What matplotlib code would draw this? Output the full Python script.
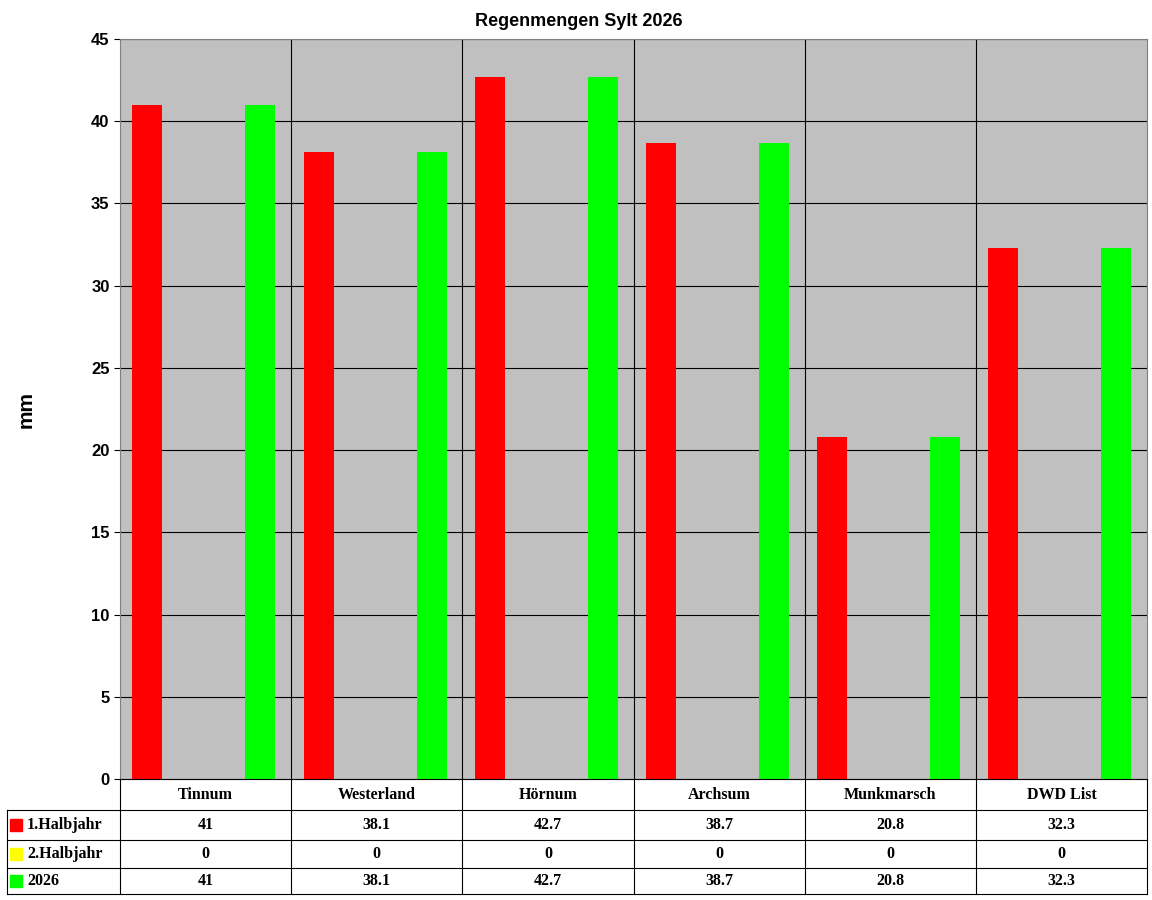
import matplotlib
matplotlib.use("Agg")
import matplotlib.pyplot as plt
from matplotlib.patches import Rectangle
from matplotlib.lines import Line2D

categories = ["Tinnum", "Westerland", "Hörnum", "Archsum", "Munkmarsch", "DWD List"]
h1 = [41, 38.1, 42.7, 38.7, 20.8, 32.3]
h2 = [0, 0, 0, 0, 0, 0]
total = [41, 38.1, 42.7, 38.7, 20.8, 32.3]
series = [("1.Halbjahr", h1, "#ff0000"), ("2.Halbjahr", h2, "#ffff00"), ("2026", total, "#00ff00")]

W, H = 1152, 900
fig = plt.figure(figsize=(W/100, H/100), dpi=100)
L, R, T, B = 120, 1147, 39, 779
ax = fig.add_axes([L/W, 1-B/H, (R-L)/W, (B-T)/H])
ax.set_facecolor("#c0c0c0")
n = len(categories)
offs = [0.16, 0.5, 0.82]
bw = 0.175
for (name, vals, col), o in zip(series, offs):
    ax.bar([i + o for i in range(n)], vals, width=bw, color=col, zorder=3)
ax.set_xlim(0, n)
ax.set_ylim(0, 45)
ax.set_yticks(range(0, 46, 5))
ax.set_xticks([])
for y in range(5, 46, 5):
    ax.axhline(y, color="black", lw=0.8, zorder=1)
for i in range(1, n):
    ax.axvline(i, color="black", lw=0.8, zorder=1)
for s in ax.spines.values():
    s.set_color("#808080"); s.set_linewidth(0.8)
ax.tick_params(axis="y", length=4, labelsize=12)
for lab in ax.get_yticklabels():
    lab.set_fontfamily("Liberation Sans"); lab.set_fontweight("bold")
ax.set_ylabel("mm", fontsize=15, fontweight="bold", family="Liberation Sans", labelpad=40)
fig.text(579/W, 1-22/H, "Regenmengen Sylt 2026", ha="center", va="center",
         fontsize=13, fontweight="bold", family="Liberation Sans")

# table
rows_y = [779, 810, 840, 868, 894]
def fx(x): return x/W
def fy(y): return 1-y/H
def hline(x0, x1, y):
    fig.add_artist(Line2D([fx(x0), fx(x1)], [fy(y), fy(y)], color="black", lw=0.8))
def vline(x, y0, y1):
    fig.add_artist(Line2D([fx(x), fx(x)], [fy(y0), fy(y1)], color="black", lw=0.8))
hline(L, R, 779)
for y in rows_y[1:]:
    hline(7, R, y)
vline(7, 810, 894)
cw = (R-L)/n
for i in range(n+1):
    vline(L + i*cw, 779, 894)
tf = dict(family="Liberation Serif", fontweight="bold", fontsize=11.5, va="center")
for i, c in enumerate(categories):
    fig.text(fx(L + (i+0.5)*cw), fy(795), c, ha="center", **tf)
for r, (name, vals, col) in enumerate(series):
    yc = (rows_y[r+1] + rows_y[r+2]) / 2
    fig.add_artist(Rectangle((fx(10), fy(yc+6)), 12/W, 12/H, color=col))
    fig.text(fx(27), fy(yc), name, ha="left", **tf)
    for i, v in enumerate(vals):
        fig.text(fx(L + (i+0.5)*cw), fy(yc), f"{v:g}", ha="center", **tf)

fig.savefig("out.png", dpi=100, facecolor="white")
